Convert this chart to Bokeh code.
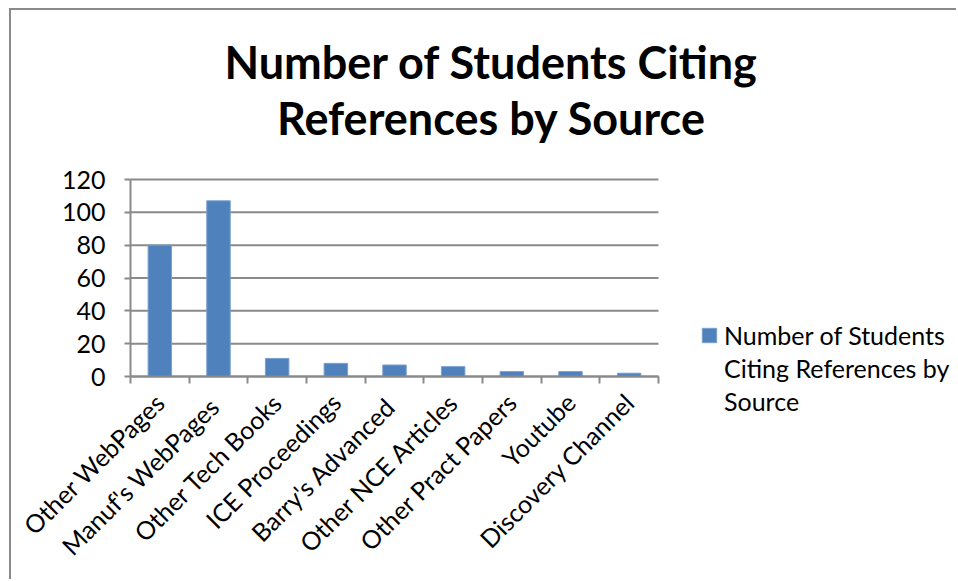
from bokeh.plotting import figure
from bokeh.models import (Range1d, FixedTicker, Label, Legend, LegendItem, ColumnDataSource)
from bokeh.embed import file_html
from bokeh.resources import INLINE

categories = ["Other WebPages", "Manuf's  WebPages", "Other Tech Books", "ICE Proceedings",
              "Barry's  Advanced", "Other NCE Articles", "Other Pract Papers", "Youtube",
              "Discovery Channel"]
counts = [80, 107, 11, 8, 7, 6, 3, 3, 2]
y_ticks = [0, 20, 40, 60, 80, 100, 120]
title_lines = ["Number of Students Citing", "References by Source"]
series_lines = ["Number of Students", "Citing References by", "Source"]

BLUE = "#4F81BD"
GRAY = "#8a8a8a"
FONT = "Lato"

n = len(categories)
centers = [i + 0.5 for i in range(n)]
bounds = list(range(n + 1))

# layout (pixels): canvas 947x571; the bar area is 528x197,
# 119 px from the canvas left and 205 px above the canvas bottom
W, H = 947, 571
LEFT, BOTTOM = 119, 205
PLOT_W, PLOT_H = 528, 197
x_per_px = n / PLOT_W
y_per_px = y_ticks[-1] / PLOT_H
x_start, x_end = -LEFT * x_per_px, (W - LEFT) * x_per_px
y_start, y_end = -BOTTOM * y_per_px, (H - BOTTOM) * y_per_px

p = figure(width=W, height=H, output_backend="svg", toolbar_location=None,
           x_range=Range1d(x_start, x_end), y_range=Range1d(y_start, y_end),
           min_border_left=0, min_border_right=0, min_border_top=0, min_border_bottom=0)
p.outline_line_color = None
p.background_fill_color = "white"
p.border_fill_color = "white"
p.styles = {"border-top": "2px solid #8a8a8a", "border-left": "2px solid #8a8a8a",
            "margin-left": "9px", "margin-top": "8px"}

# horizontal gridlines at the y ticks, over the category span only
p.segment(x0=[0] * len(y_ticks), x1=[n] * len(y_ticks), y0=y_ticks, y1=y_ticks,
          line_color=GRAY, line_width=2)

src = ColumnDataSource(dict(x=centers, top=counts, name=categories))
bars = p.vbar(x="x", top="top", width=0.4, bottom=0, source=src, fill_color=BLUE,
              line_color="#7A9FCE", line_width=1)

# y axis at x = 0
p.yaxis.fixed_location = 0
p.yaxis.ticker = FixedTicker(ticks=y_ticks)
p.yaxis.bounds = (y_ticks[0], y_ticks[-1])
p.yaxis.axis_line_color = GRAY
p.yaxis.axis_line_width = 2
p.yaxis.major_tick_line_color = GRAY
p.yaxis.major_tick_line_width = 2
p.yaxis.major_tick_out = 6
p.yaxis.major_tick_in = 0
p.yaxis.minor_tick_line_color = None
p.yaxis.major_label_standoff = 19
p.yaxis.major_label_text_font = FONT
p.yaxis.major_label_text_font_size = "25px"
p.yaxis.major_label_text_color = "black"

# x axis at y = 0: labels at centers, tick marks at category boundaries
p.xaxis.fixed_location = 0
p.xaxis.ticker = FixedTicker(ticks=centers, minor_ticks=bounds)
p.xaxis.bounds = (0, n)
p.xaxis.major_label_overrides = {c: name for c, name in zip(centers, categories)}
p.xaxis.major_tick_line_color = None
p.xaxis.minor_tick_line_color = GRAY
p.xaxis.minor_tick_line_width = 2
p.xaxis.minor_tick_out = 7
p.xaxis.minor_tick_in = 0
p.xaxis.axis_line_color = GRAY
p.xaxis.axis_line_width = 2
p.xaxis.major_label_orientation = 0.785398
p.xaxis.major_label_standoff = 14
p.xaxis.major_label_text_font = FONT
p.xaxis.major_label_text_font_size = "25px"
p.xaxis.major_label_text_color = "black"

p.xgrid.grid_line_color = None
p.ygrid.grid_line_color = None

# title (two centred lines)
for line, yy in zip(title_lines, [520, 464]):
    p.add_layout(Label(x=480, y=yy, x_units="screen", y_units="screen", text=line,
                       text_align="center", text_baseline="middle", text_font=FONT,
                       text_font_style="bold", text_font_size="45px", text_color="black"))

items = [LegendItem(label=series_lines[0], renderers=[bars])]
items += [LegendItem(label=s, renderers=[]) for s in series_lines[1:]]
legend = Legend(items=items, location=(689, 165), padding=0, margin=0, border_line_color=None,
                background_fill_alpha=0, glyph_width=18, glyph_height=18, spacing=3,
                label_standoff=6, label_text_font=FONT, label_text_font_size="25px",
                label_text_color="black")
p.add_layout(legend)

open("out.html", "w").write(file_html(p, INLINE))
